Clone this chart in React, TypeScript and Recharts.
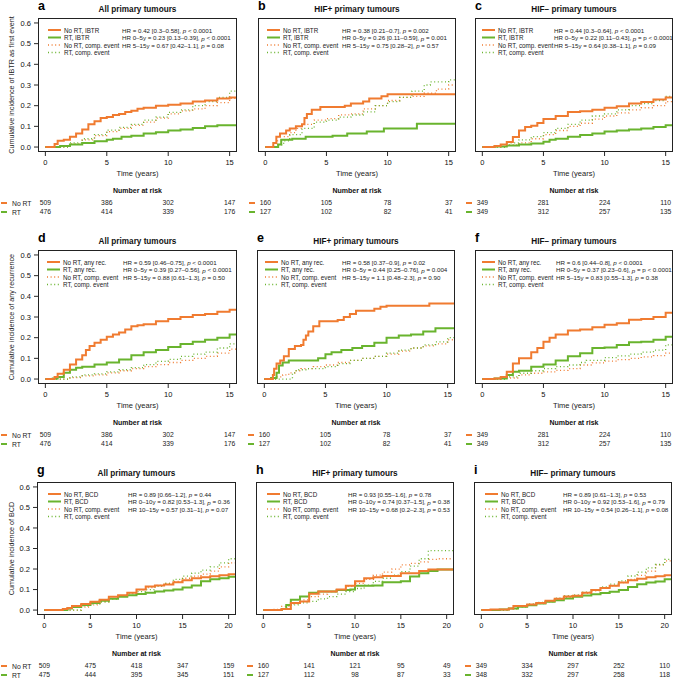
import React from 'react';
import { LineChart, Line, XAxis, YAxis, ScatterChart, Scatter } from 'recharts';

const ORANGE = '#F07B30';
const GREEN = '#69B42E';
const FONT = '"Liberation Sans", Arial, Helvetica, sans-serif';

type P = [number, number][];

// ---------- Panel a: IBTR, all primary tumours ----------
const A_NORT_EV: P = [[0,0],[0.7,0],[0.75,0.015],[1,0.03],[1.5,0.035],[2,0.05],[2.5,0.065],[3,0.085],[3.5,0.11],[4,0.125],[4.5,0.14],[5,0.145],[5.5,0.155],[6,0.16],[6.5,0.17],[7,0.175],[7.5,0.185],[8,0.19],[9,0.2],[10,0.205],[11,0.21],[12,0.22],[13,0.225],[14,0.235],[15,0.24],[15.6,0.24]];
const A_RT_EV: P = [[0,0],[1,0],[1.2,0.005],[2,0.012],[3,0.02],[4,0.028],[5,0.035],[5.5,0.04],[6.2,0.05],[7,0.055],[8,0.065],[9,0.072],[10,0.08],[11,0.085],[12,0.092],[13,0.1],[14,0.105],[15.6,0.107]];
const A_NORT_CE: P = [[0,0],[1.5,0],[2,0.015],[3,0.035],[4,0.055],[5,0.075],[6,0.09],[7,0.105],[8,0.12],[9,0.14],[10,0.16],[11,0.175],[12,0.185],[13,0.2],[14,0.215],[15,0.235],[15.6,0.245]];
const A_RT_CE: P = [[0,0],[1.5,0],[2,0.02],[3,0.04],[4,0.06],[5,0.082],[6,0.095],[7,0.11],[8,0.13],[9,0.145],[10,0.168],[11,0.18],[12,0.2],[13,0.22],[14,0.24],[15,0.27],[15.6,0.29]];

// ---------- Panel b: IBTR, HIF+ ----------
const B_NORT_EV: P = [[0,0],[0.6,0],[0.65,0.02],[0.9,0.05],[1.2,0.065],[1.7,0.08],[2,0.09],[2.5,0.1],[3,0.11],[3.2,0.14],[3.4,0.16],[3.8,0.18],[4.5,0.194],[6.5,0.2],[7,0.21],[8,0.22],[8.5,0.235],[9.5,0.245],[10,0.255],[15.6,0.255]];
const B_RT_EV: P = [[0,0],[1,0],[1.05,0.012],[1.3,0.035],[2.2,0.04],[3.3,0.05],[5.5,0.055],[6.7,0.065],[8.3,0.075],[9.7,0.09],[12.4,0.113],[15.6,0.113]];
const B_NORT_CE: P = [[0,0],[0.5,0],[1,0.03],[1.5,0.05],[2,0.07],[2.5,0.09],[3,0.11],[4,0.13],[5,0.137],[6,0.156],[7,0.16],[8,0.185],[9,0.2],[10,0.225],[11,0.24],[12,0.245],[13,0.26],[14,0.28],[15,0.3],[15.6,0.31]];
const B_RT_CE: P = [[0,0],[0.8,0],[1,0.01],[1.5,0.03],[2,0.06],[3,0.09],[4,0.12],[5,0.13],[6,0.145],[7,0.155],[8,0.17],[9,0.2],[10,0.22],[11,0.24],[12,0.27],[13,0.3],[13.5,0.315],[15,0.325],[15.6,0.335]];

// ---------- Panel c: IBTR, HIF- ----------
const C_NORT_EV: P = [[0,0],[0.8,0],[1,0.005],[1.5,0.012],[2,0.024],[2.5,0.048],[3,0.08],[3.5,0.097],[4,0.103],[4.5,0.116],[5,0.135],[6,0.15],[7,0.17],[8,0.173],[9,0.18],[10,0.19],[11,0.197],[12,0.21],[13,0.218],[14,0.23],[15,0.24],[15.6,0.243]];
const C_RT_EV: P = [[0,0],[0.8,0],[1,0.002],[2,0.008],[3,0.012],[4,0.017],[5,0.025],[5.5,0.035],[6,0.04],[7,0.05],[8,0.058],[9,0.065],[10,0.075],[11,0.08],[12,0.085],[13,0.09],[14,0.097],[15,0.105],[15.6,0.11]];
const C_NORT_CE: P = [[0,0],[1.5,0],[2,0.01],[3,0.02],[4,0.04],[5,0.06],[6,0.08],[7,0.1],[8,0.115],[9,0.135],[10,0.15],[11,0.165],[12,0.18],[13,0.19],[14,0.2],[15,0.22],[15.6,0.23]];
const C_RT_CE: P = [[0,0],[1.5,0],[2,0.02],[3,0.035],[4,0.05],[5,0.07],[6,0.09],[7,0.11],[8,0.13],[9,0.15],[10,0.16],[11,0.18],[12,0.2],[13,0.21],[14,0.225],[15,0.245],[15.6,0.25]];

// ---------- Panel d: any recurrence, all ----------
const D_NORT_EV: P = [[0,0],[0.7,0],[0.75,0.01],[1,0.025],[1.5,0.045],[2,0.07],[2.5,0.095],[3,0.115],[3.3,0.14],[3.6,0.16],[4,0.175],[4.5,0.19],[5,0.205],[5.5,0.215],[6,0.225],[6.5,0.24],[7,0.255],[7.5,0.26],[8,0.265],[9,0.28],[10,0.29],[11,0.3],[12,0.31],[13,0.315],[14,0.325],[15,0.335],[15.6,0.34]];
const D_RT_EV: P = [[0,0],[0.5,0],[0.6,0.003],[1,0.01],[1.5,0.03],[2,0.045],[2.5,0.055],[3,0.06],[4,0.07],[5,0.08],[6,0.095],[7,0.115],[8,0.13],[9,0.14],[10,0.155],[11,0.17],[12,0.18],[13,0.19],[14,0.2],[15,0.215],[15.6,0.22]];
const D_NORT_CE: P = [[0,0],[1.5,0],[2,0.007],[3,0.015],[4,0.02],[5,0.03],[6,0.04],[7,0.05],[8,0.06],[9,0.07],[10,0.08],[11,0.09],[12,0.1],[13,0.11],[14,0.125],[15,0.145],[15.6,0.155]];
const D_RT_CE: P = [[0,0],[1.5,0],[2,0.01],[3,0.02],[4,0.025],[5,0.035],[6,0.045],[7,0.055],[8,0.07],[9,0.085],[10,0.095],[11,0.11],[12,0.12],[13,0.13],[14,0.15],[15,0.17],[15.6,0.18]];

// ---------- Panel e: any recurrence, HIF+ ----------
const E_NORT_EV: P = [[0,0],[0.65,0],[0.7,0.02],[0.8,0.05],[1,0.075],[1.3,0.09],[1.6,0.11],[2,0.145],[2.5,0.16],[3,0.165],[3.2,0.19],[3.4,0.21],[3.6,0.23],[4,0.255],[4.5,0.28],[6,0.285],[6.5,0.3],[7,0.315],[7.5,0.33],[9,0.34],[9.5,0.35],[10,0.355],[13.5,0.365],[15.6,0.365]];
const E_RT_EV: P = [[0,0],[0.5,0],[0.55,0.005],[1,0.03],[1.2,0.065],[1.5,0.08],[2,0.09],[4.4,0.1],[5,0.12],[5.5,0.13],[6.3,0.14],[7.2,0.15],[8,0.16],[9,0.175],[10,0.2],[11,0.21],[12,0.215],[13,0.23],[14,0.245],[15.6,0.245]];
const E_NORT_CE: P = [[0,0],[0.7,0],[1,0.01],[1.5,0.02],[2,0.03],[2.5,0.04],[3,0.05],[4,0.06],[5,0.068],[6,0.08],[7,0.09],[8,0.1],[9,0.11],[10,0.12],[11,0.135],[12,0.15],[13,0.16],[14,0.17],[15,0.19],[15.6,0.21]];
const E_RT_CE: P = [[0,0],[2.2,0],[2.3,0.03],[2.6,0.045],[3.5,0.05],[5,0.06],[6,0.075],[7,0.09],[8,0.1],[9,0.11],[10,0.125],[11,0.14],[12,0.15],[13,0.165],[14,0.18],[15,0.2],[15.6,0.22]];

// ---------- Panel f: any recurrence, HIF- ----------
const F_NORT_EV: P = [[0,0],[0.8,0],[1,0.003],[1.5,0.01],[2,0.035],[2.5,0.075],[3,0.1],[4,0.13],[4.5,0.15],[5,0.18],[5.5,0.2],[6,0.215],[7,0.235],[8,0.24],[9,0.25],[10,0.262],[11,0.27],[12,0.287],[13,0.29],[14,0.3],[15,0.32],[15.6,0.325]];
const F_RT_EV: P = [[0,0],[0.8,0],[1,0.003],[2,0.02],[2.5,0.035],[3,0.04],[4,0.06],[5,0.07],[6,0.09],[7,0.11],[8,0.125],[9,0.15],[10,0.152],[11,0.165],[12,0.178],[13,0.18],[14,0.19],[15,0.205],[15.6,0.21]];
const F_NORT_CE: P = [[0,0],[1.5,0],[2,0.005],[3,0.02],[4,0.028],[5,0.035],[6,0.042],[7,0.05],[8,0.068],[9,0.078],[10,0.087],[11,0.094],[12,0.1],[13,0.107],[14,0.113],[15,0.125],[15.6,0.14]];
const F_RT_CE: P = [[0,0],[1.5,0],[2,0.01],[3,0.028],[4,0.04],[5,0.05],[6,0.06],[7,0.068],[8,0.08],[8.5,0.09],[10,0.104],[11,0.112],[12,0.12],[13,0.13],[14,0.14],[15,0.165],[15.6,0.18]];

// ---------- Panel g: BCD, all ----------
const G_NORT_EV: P = [[0,0],[1.5,0],[2,0.005],[2.5,0.01],[3,0.02],[4,0.03],[5,0.04],[6,0.05],[7,0.065],[8,0.072],[9,0.085],[10,0.1],[11,0.115],[12,0.12],[13,0.125],[14,0.135],[15,0.145],[16,0.155],[17,0.16],[18,0.165],[19,0.17],[20,0.175],[20.8,0.18]];
const G_RT_EV: P = [[0,0],[2.3,0],[2.5,0.008],[3,0.015],[4,0.025],[5,0.035],[6,0.045],[7,0.055],[8,0.065],[9,0.072],[10,0.078],[11,0.085],[12,0.09],[13,0.095],[14,0.1],[15,0.11],[16,0.12],[17,0.14],[18,0.15],[19,0.155],[20,0.162],[20.8,0.165]];
const G_NORT_CE: P = [[0,0],[3,0],[4,0.015],[5,0.025],[6,0.04],[7,0.055],[8,0.07],[9,0.085],[10,0.1],[11,0.11],[12,0.12],[13,0.13],[14,0.14],[15,0.155],[16,0.165],[17,0.175],[18,0.19],[19,0.21],[20,0.23],[20.8,0.24]];
const G_RT_CE: P = [[0,0],[3,0],[4,0.02],[5,0.03],[6,0.04],[7,0.055],[8,0.07],[9,0.08],[10,0.09],[11,0.1],[12,0.115],[13,0.13],[14,0.15],[15,0.165],[16,0.18],[17,0.195],[18,0.21],[19,0.23],[20,0.25],[20.8,0.26]];

// ---------- Panel h: BCD, HIF+ ----------
const H_NORT_EV: P = [[0,0],[1.8,0],[2,0.005],[3,0.035],[4,0.042],[5,0.08],[6,0.09],[8,0.1],[9,0.118],[10,0.14],[11,0.155],[12,0.16],[13,0.166],[15,0.18],[17,0.19],[18,0.198],[20.8,0.198]];
const H_RT_EV: P = [[0,0],[1.8,0],[2,0.005],[2.5,0.025],[3,0.05],[4,0.066],[5,0.085],[6,0.09],[8,0.098],[9.5,0.1],[10,0.118],[12,0.12],[13,0.135],[15,0.14],[16,0.163],[17,0.18],[18,0.19],[19,0.198],[20.8,0.198]];
const H_NORT_CE: P = [[0,0],[0.8,0],[1,0.003],[2,0.018],[3,0.03],[4,0.05],[5,0.066],[6,0.078],[7,0.09],[8,0.1],[9,0.115],[10,0.13],[11,0.15],[12,0.17],[13,0.185],[14,0.2],[15,0.22],[16,0.228],[17,0.235],[18,0.247],[19,0.25],[20.8,0.255]];
const H_RT_CE: P = [[0,0],[1.8,0],[2,0.005],[3,0.025],[4,0.035],[5,0.042],[6,0.055],[7,0.066],[8,0.078],[9,0.09],[10,0.105],[11,0.122],[12,0.14],[13,0.155],[14,0.17],[15,0.187],[16,0.214],[17,0.25],[18,0.29],[20.8,0.29]];

// ---------- Panel i: BCD, HIF- ----------
const I_NORT_EV: P = [[0,0],[0.8,0],[1,0.003],[3,0.008],[3.5,0.02],[5,0.027],[6,0.035],[7,0.045],[8,0.055],[9,0.066],[10,0.07],[11,0.085],[12,0.098],[13,0.108],[14,0.118],[15,0.134],[16,0.145],[17,0.153],[18,0.16],[19,0.165],[20,0.17],[20.8,0.18]];
const I_RT_EV: P = [[0,0],[1.8,0],[2,0.003],[3,0.008],[4,0.016],[5,0.024],[6,0.032],[7,0.04],[8,0.048],[9,0.056],[10,0.065],[11,0.071],[12,0.077],[13,0.083],[14,0.089],[15,0.098],[16,0.113],[17,0.126],[18,0.134],[19,0.139],[20,0.15],[20.8,0.161]];
const I_NORT_CE: P = [[0,0],[2.5,0],[3,0.005],[4,0.014],[5,0.024],[6,0.032],[7,0.04],[8,0.05],[9,0.061],[10,0.07],[11,0.082],[12,0.094],[13,0.106],[14,0.118],[15,0.134],[16,0.15],[17,0.169],[18,0.19],[19,0.22],[20,0.24],[20.8,0.255]];
const I_RT_CE: P = [[0,0],[2.5,0],[3,0.008],[4,0.02],[5,0.03],[6,0.038],[7,0.045],[8,0.058],[9,0.07],[10,0.074],[11,0.087],[12,0.1],[13,0.113],[14,0.126],[15,0.142],[16,0.166],[17,0.185],[18,0.206],[19,0.222],[20,0.247],[20.8,0.26]];

// ---------- Numbers at risk ----------
const RISK_T15 = [0, 5, 10, 15];
const RISK_T20 = [0, 5, 10, 15, 20];
const ALL15_NORT = [509, 386, 302, 147];
const ALL15_RT = [476, 414, 339, 176];
const HIFP15_NORT = [160, 105, 78, 37];
const HIFP15_RT = [127, 102, 82, 41];
const HIFN15_NORT = [349, 281, 224, 110];
const HIFN15_RT = [349, 312, 257, 135];
const ALL20_NORT = [509, 475, 418, 347, 159];
const ALL20_RT = [475, 444, 395, 345, 151];
const HIFP20_NORT = [160, 141, 121, 95, 49];
const HIFP20_RT = [127, 112, 98, 87, 33];
const HIFN20_NORT = [349, 334, 297, 252, 110];
const HIFN20_RT = [348, 332, 297, 258, 118];

// ---------- Axis ticks ----------
const Y_TICKS = [0, 0.1, 0.2, 0.3, 0.4, 0.5, 0.6];
const X_TICKS_15 = [0, 5, 10, 15];
const X_TICKS_20 = [0, 5, 10, 15, 20];

// ---------- Text ----------
const TITLES = ['All primary tumours', 'HIF+ primary tumours', 'HIF\u2212 primary tumours'];
const LETTERS = [['a', 'b', 'c'], ['d', 'e', 'f'], ['g', 'h', 'i']];
const Y_LABELS = ['Cumulative incidence of IBTR as first event', 'Cumulative incidence of any recurrence', 'Cumulative incidence of BCD'];
const EVENT_NAMES = ['IBTR', 'any rec.', 'BCD'];
const HR_TEXT: [string, string, string][][] = [
  [
    ['HR = 0.42 [0.3\u20130.58], ', '< 0.0001', ''],
    ['HR 0\u20135y = 0.23 [0.13\u20130.39], ', '< 0.0001', ''],
    ['HR 5\u201315y = 0.67 [0.42\u20131.1], ', '= 0.08', ''],
  ],
  [
    ['HR = 0.38 [0.21\u20130.7], ', '= 0.002', ''],
    ['HR 0\u20135y = 0.26 [0.11\u20130.59], ', '= 0.001', ''],
    ['HR 5\u201315y = 0.75 [0.28\u20132], ', '= 0.57', ''],
  ],
  [
    ['HR = 0.44 [0.3\u20130.64], ', '< 0.0001', ''],
    ['HR 0\u20135y = 0.22 [0.11\u20130.43], ', '= p < 0.0001', ''],
    ['HR 5\u201315y = 0.64 [0.38\u20131.1], ', '= 0.09', ''],
  ],
  [
    ['HR = 0.59 [0.46\u20130.75], ', '< 0.0001', ''],
    ['HR 0\u20135y = 0.39 [0.27\u20130.56], ', '< 0.0001', ''],
    ['HR 5\u201315y = 0.88 [0.61\u20131.3], ', '= 0.50', ''],
  ],
  [
    ['HR = 0.58 [0.37\u20130.9], ', '= 0.02', ''],
    ['HR 0\u20135y = 0.44 [0.25\u20130.76], ', '= 0.004', ''],
    ['HR 5\u201315y = 1.1 [0.48\u20132.3], ', '= 0.90', ''],
  ],
  [
    ['HR = 0.6 [0.44\u20130.8], ', '< 0.0001', ''],
    ['HR 0\u20135y = 0.37 [0.23\u20130.6], ', '= p < 0.0001', ''],
    ['HR 5\u201315y = 0.83 [0.55\u20131.3], ', '= 0.38', ''],
  ],
  [
    ['HR = 0.89 [0.66\u20131.2], ', '= 0.44', ''],
    ['HR 0\u201310y = 0.82 [0.53\u20131.3], ', '= 0.36', ''],
    ['HR 10\u201315y = 0.57 [0.31\u20131], ', '= 0.07', ''],
  ],
  [
    ['HR = 0.93 [0.55\u20131.6], ', '= 0.78', ''],
    ['HR 0\u201310y = 0.74 [0.37\u20131.5], ', '= 0.38', ''],
    ['HR 10\u201315y = 0.68 [0.2\u20132.3], ', '= 0.53', ''],
  ],
  [
    ['HR = 0.89 [0.61\u20131.3], ', '= 0.53', ''],
    ['HR 0\u201310y = 0.92 [0.53\u20131.6], ', '= 0.79', ''],
    ['HR 10\u201315y = 0.54 [0.26\u20131.1], ', '= 0.08', ''],
  ],
];

// ---------- Layout ----------
const ROW_TOPS = [18, 250, 482];
const ROW_H = [134, 134, 133];
const COL_LEFTS = [[38, 258, 475], [38, 257, 475], [37, 256, 474]];
const BOX_W = [199, 198, 198];
const LEG_X = [[10, 9, 7], [9, 8, 7], [11, 11, 11]];
const HR_X = [[84, 84, 79], [85, 85, 81], [91, 92, 89]];

const SERIES = [
  [A_NORT_EV, A_RT_EV, A_NORT_CE, A_RT_CE],
  [B_NORT_EV, B_RT_EV, B_NORT_CE, B_RT_CE],
  [C_NORT_EV, C_RT_EV, C_NORT_CE, C_RT_CE],
  [D_NORT_EV, D_RT_EV, D_NORT_CE, D_RT_CE],
  [E_NORT_EV, E_RT_EV, E_NORT_CE, E_RT_CE],
  [F_NORT_EV, F_RT_EV, F_NORT_CE, F_RT_CE],
  [G_NORT_EV, G_RT_EV, G_NORT_CE, G_RT_CE],
  [H_NORT_EV, H_RT_EV, H_NORT_CE, H_RT_CE],
  [I_NORT_EV, I_RT_EV, I_NORT_CE, I_RT_CE],
];
const RISK = [
  [ALL15_NORT, ALL15_RT], [HIFP15_NORT, HIFP15_RT], [HIFN15_NORT, HIFN15_RT],
  [ALL15_NORT, ALL15_RT], [HIFP15_NORT, HIFP15_RT], [HIFN15_NORT, HIFN15_RT],
  [ALL20_NORT, ALL20_RT], [HIFP20_NORT, HIFP20_RT], [HIFN20_NORT, HIFN20_RT],
];

const toPts = (p: P) => p.map(([t, y]) => ({ t, y }));
const Y_AXIS_W = 32;
const X_AXIS_H = 20;

const RiskText = (props: any) => {
  const { cx, cy, payload } = props;
  return (
    <text x={cx} y={cy} textAnchor="middle" dominantBaseline="central" fontSize={6.8} fontFamily={FONT} fill="#222">
      {payload.n}
    </text>
  );
};

function Panel({ row, col }: { row: number; col: number }) {
  const idx = row * 3 + col;
  const left = COL_LEFTS[row][col];
  const top = ROW_TOPS[row];
  const h = ROW_H[row];
  const w = BOX_W[col];
  const is20 = row === 2;
  const xDomain: [number, number] = is20 ? [-0.8, 20.8] : [-0.6, 15.6];
  const xTicks = is20 ? X_TICKS_20 : X_TICKS_15;
  const riskT = is20 ? RISK_T20 : RISK_T15;
  const [nort, rt, nortCe, rtCe] = SERIES[idx];
  const [riskNo, riskRt] = RISK[idx];
  const riskData = [
    ...riskNo.map((n, i) => ({ t: riskT[i], r: 1.5, n })),
    ...riskRt.map((n, i) => ({ t: riskT[i], r: 0.5, n })),
  ];
  const tickStyle = { fontSize: 7.5, fill: '#111', fontFamily: FONT };
  return (
    <>
      <div style={{ position: 'absolute', left: left - Y_AXIS_W, top, width: w + Y_AXIS_W, height: h + X_AXIS_H }}>
        <LineChart width={w + Y_AXIS_W} height={h + X_AXIS_H} margin={{ top: 0, right: 0, bottom: 0, left: 0 }}>
          <XAxis
            type="number"
            dataKey="t"
            domain={xDomain}
            ticks={xTicks}
            interval={0}
            allowDataOverflow
            axisLine={false}
            tickLine={{ stroke: '#111', strokeWidth: 0.9 }}
            tickSize={4}
            tickMargin={4}
            height={X_AXIS_H}
            tick={tickStyle}
          />
          <YAxis
            type="number"
            domain={[-0.024, 0.624]}
            ticks={Y_TICKS}
            interval={0}
            allowDataOverflow
            axisLine={false}
            tickLine={{ stroke: '#111', strokeWidth: 0.9 }}
            tickSize={4}
            tickMargin={3}
            width={Y_AXIS_W}
            tickFormatter={(v: number) => v.toFixed(1)}
            tick={col === 0 ? tickStyle : false}
          />
          <Line data={toPts(nortCe)} dataKey="y" type="stepAfter" stroke={ORANGE} strokeWidth={1.3} strokeDasharray="1 2.6" dot={false} isAnimationActive={false} />
          <Line data={toPts(rtCe)} dataKey="y" type="stepAfter" stroke={GREEN} strokeWidth={1.3} strokeDasharray="1 2.6" dot={false} isAnimationActive={false} />
          <Line data={toPts(rt)} dataKey="y" type="stepAfter" stroke={GREEN} strokeWidth={2} dot={false} isAnimationActive={false} />
          <Line data={toPts(nort)} dataKey="y" type="stepAfter" stroke={ORANGE} strokeWidth={2} dot={false} isAnimationActive={false} />
        </LineChart>
      </div>
      <div
        style={{
          position: 'absolute', left, top, width: w, height: h,
          border: '1px solid #222', boxSizing: 'border-box', pointerEvents: 'none',
        }}
      />
      <div style={{ position: 'absolute', left, top: top + h + 46, width: w, height: 18 }}>
        <ScatterChart width={w} height={18} margin={{ top: 0, right: 0, bottom: 0, left: 0 }}>
          <XAxis type="number" dataKey="t" domain={xDomain} hide allowDataOverflow />
          <YAxis type="number" dataKey="r" domain={[0, 2]} hide />
          <Scatter data={riskData} shape={RiskText} isAnimationActive={false} />
        </ScatterChart>
      </div>
    </>
  );
}

function Overlay() {
  const items: React.ReactNode[] = [];
  for (let row = 0; row < 3; row++) {
    const top = ROW_TOPS[row];
    const h = ROW_H[row];
    const bottom = top + h;
    items.push(
      <text key={`yl${row}`} x={0} y={0} transform={`translate(11.5, ${top + h / 2}) rotate(-90)`} textAnchor="middle" dominantBaseline="central" fontSize={7.2} fontFamily={FONT} fill="#222">
        {Y_LABELS[row]}
      </text>
    );
    for (let col = 0; col < 3; col++) {
      const idx = row * 3 + col;
      const left = COL_LEFTS[row][col];
      const w = BOX_W[col];
      const cx = left + w / 2;
      items.push(
        <text key={`L${idx}`} x={left} y={top - 8} fontSize={12.5} fontWeight="bold" fontFamily={FONT} fill="#000">{LETTERS[row][col]}</text>,
        <text key={`T${idx}`} x={cx} y={top - 6} textAnchor="middle" fontSize={8.2} fontWeight="bold" fontFamily={FONT} fill="#111">{TITLES[col]}</text>,
        <text key={`X${idx}`} x={cx} y={bottom + 24} textAnchor="middle" fontSize={7.5} fontFamily={FONT} fill="#222">Time (years)</text>,
        <text key={`N${idx}`} x={cx} y={bottom + 41} textAnchor="middle" fontSize={7} fontWeight="bold" fontFamily={FONT} fill="#111">Number at risk</text>,
      );
      // risk table row markers
      const r1 = bottom + 51;
      const r2 = bottom + 60;
      const dashX = col === 0 ? 1 : left - 9;
      items.push(
        <line key={`d1${idx}`} x1={dashX} x2={dashX + 6} y1={r1} y2={r1} stroke={ORANGE} strokeWidth={2} />,
        <line key={`d2${idx}`} x1={dashX} x2={dashX + 6} y1={r2} y2={r2} stroke={GREEN} strokeWidth={2} />,
      );
      if (col === 0) {
        items.push(
          <text key={`rn${idx}`} x={12} y={r1} dominantBaseline="central" fontSize={6.8} fontFamily={FONT} fill="#222">No RT</text>,
          <text key={`rr${idx}`} x={12} y={r2} dominantBaseline="central" fontSize={6.8} fontFamily={FONT} fill="#222">RT</text>,
        );
      }
      // legend
      const lx = left + LEG_X[row][col];
      const ev = EVENT_NAMES[row];
      const legRows = [
        { label: `No RT, ${ev}`, color: ORANGE, dotted: false },
        { label: `RT, ${ev}`, color: GREEN, dotted: false },
        { label: 'No RT, comp. event', color: ORANGE, dotted: true },
        { label: 'RT, comp. event', color: GREEN, dotted: true },
      ];
      legRows.forEach((lr, k) => {
        const y = top + 12 + k * 7.5;
        items.push(
          <line key={`ll${idx}-${k}`} x1={lx} x2={lx + 13} y1={y} y2={y} stroke={lr.color} strokeWidth={lr.dotted ? 1.3 : 2} strokeDasharray={lr.dotted ? '1 2.6' : undefined} />,
          <text key={`lt${idx}-${k}`} x={lx + 16} y={y} dominantBaseline="central" fontSize={6.3} fontFamily={FONT} fill="#222">{lr.label}</text>,
        );
      });
      const hx = left + HR_X[row][col];
      HR_TEXT[idx].forEach((parts, k) => {
        const y = top + 12 + k * 7.5;
        items.push(
          <text key={`hr${idx}-${k}`} x={hx} y={y} dominantBaseline="central" fontSize={6.2} fontFamily={FONT} fill="#222">
            {parts[0]}
            <tspan fontStyle="italic">p</tspan>
            {' ' + parts[1]}
          </text>
        );
      });
    }
  }
  return (
    <svg width={674} height={679} style={{ position: 'absolute', left: 0, top: 0, pointerEvents: 'none' }}>
      {items}
    </svg>
  );
}

export default function App() {
  const panels: React.ReactNode[] = [];
  for (let r = 0; r < 3; r++) for (let c = 0; c < 3; c++) panels.push(<Panel key={`${r}-${c}`} row={r} col={c} />);
  return (
    <div style={{ position: 'absolute', left: 0, top: 0, width: 674, height: 679, background: '#fff', overflow: 'hidden', fontFamily: FONT }}>
      {panels}
      <Overlay />
    </div>
  );
}
